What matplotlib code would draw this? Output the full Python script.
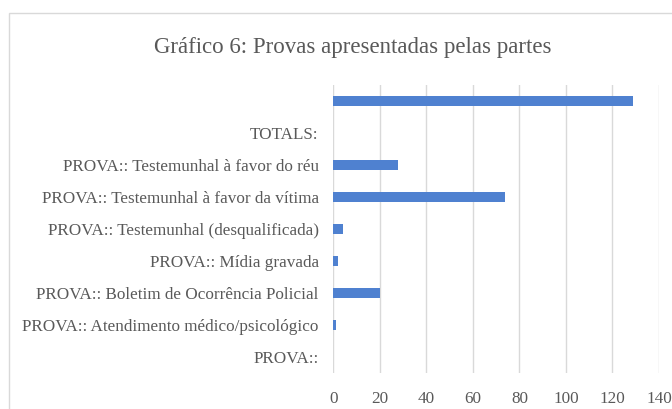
import matplotlib.pyplot as plt
from matplotlib.patches import Rectangle

plt.rcParams['font.family'] = ['Liberation Serif', 'DejaVu Serif']

categorias = ['PROVA::',
              'PROVA:: Atendimento médico/psicológico',
              'PROVA:: Boletim de Ocorrência Policial',
              'PROVA:: Mídia gravada',
              'PROVA:: Testemunhal (desqualificada)',
              'PROVA:: Testemunhal à favor da vítima',
              'PROVA:: Testemunhal à favor do réu',
              'TOTALS:',
              '']
valores = [0, 1, 20, 2, 4, 74, 28, 0, 129]
ticks_x = [0, 20, 40, 60, 80, 100, 120, 140]

cinza = '#595959'

fig = plt.figure(figsize=(6.72, 4.09), dpi=100)
fig.patches.append(Rectangle((9/672, -0.1), 1.2, 1.1 - 13/409, transform=fig.transFigure,
                             fill=False, edgecolor='#d9d9d9', linewidth=1))

ax = fig.add_axes([333.3/672, 1 - 373/409, (659 - 333.3)/672, (373 - 85)/409])
y = range(len(categorias))
ax.barh(y, valores, height=0.33, color='#4f81d0', zorder=3)
ax.set_ylim(-0.5, len(categorias) - 0.5)
ax.set_xlim(0, 140)
ax.set_xticks(ticks_x)
ax.set_yticks(list(y))
ax.set_yticklabels(categorias)
ax.grid(axis='x', color='#d9d9d9', linewidth=1, zorder=0)
for s in ax.spines.values():
    s.set_visible(False)
ax.tick_params(axis='both', length=0, labelsize=12.3, labelcolor=cinza)
ax.tick_params(axis='x', pad=13)
ax.tick_params(axis='y', pad=10.5)

fig.text(353/672, 1 - 47/409, 'Gráfico 6: Provas apresentadas pelas partes',
         ha='center', va='center', fontsize=16.5, color=cinza)

fig.savefig('out.png', dpi=100)
